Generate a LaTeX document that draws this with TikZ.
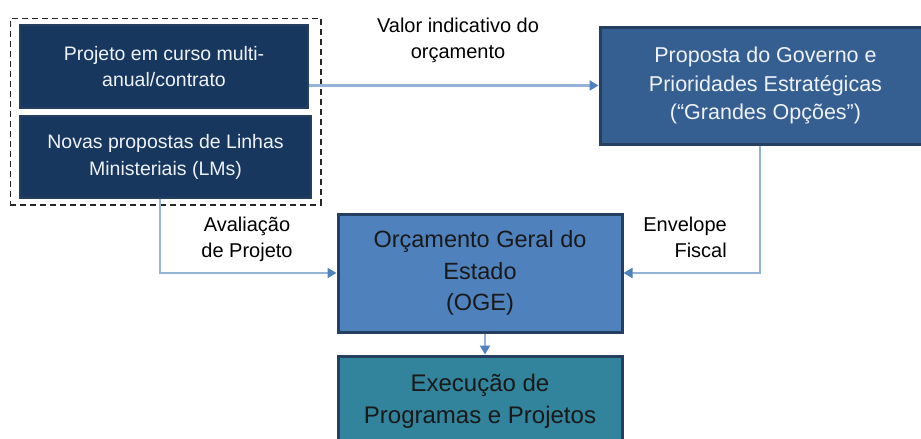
\documentclass[tikz,border=0pt]{standalone}
\usepackage{fontspec}
\setmainfont{Liberation Sans}
\usetikzlibrary{arrows.meta,fit}
\definecolor{navy}{HTML}{17375E}
\definecolor{propfill}{HTML}{365F91}
\definecolor{ogefill}{HTML}{4F81BD}
\definecolor{execfill}{HTML}{31849B}
\definecolor{boxedge}{HTML}{243F60}
\definecolor{linecol}{HTML}{95B3D7}
\definecolor{tipcol}{HTML}{4F81BD}
\definecolor{lighttext}{HTML}{EEF2F8}
\tikzset{
  basebox/.style={draw=boxedge, line width=3pt, inner sep=0pt, align=center},
  darkbox/.style={basebox, fill=navy, text=lighttext, line width=1.5pt,
    font=\fontsize{19.5}{26.5}\selectfont},
  propbox/.style={basebox, fill=propfill, text=lighttext,
    font=\fontsize{21.5}{28.5}\selectfont},
  ogebox/.style={basebox, fill=ogefill, text=black!90,
    font=\fontsize{23.5}{31.5}\selectfont},
  execbox/.style={basebox, fill=execfill, text=black!90,
    font=\fontsize{24}{32}\selectfont},
  lbl/.style={align=center, inner sep=0pt, font=\fontsize{20}{26}\selectfont},
  conn/.style={draw=linecol, line width=2.2pt,
    -{Triangle[color=tipcol, length=9pt, width=10pt]}},
}
\begin{document}
\begin{tikzpicture}[x=1pt,y=-1pt]
\useasboundingbox (0,0) rectangle (921,439);
\clip (0,0) rectangle (921,439);
\node[darkbox, minimum width=288pt, minimum height=83pt] (b1) at (164,66.5)
  {Projeto em curso multi-\\anual/contrato};
\node[darkbox, minimum width=291pt, minimum height=82pt] (b2) at (165.5,157)
  {Novas propostas de Linhas\\Ministeriais (LMs)};
\node[draw=black!85, line width=1.5pt, dash pattern=on 6pt off 4pt,
  fit=(b1)(b2), inner xsep=9pt, inner ysep=6pt] (grp) {};
\node[propbox, minimum width=331pt, minimum height=117pt] (prop) at (765.5,85.5)
  {Proposta do Governo e\\Prioridades Estratégicas\\(“Grandes Opções”)};
\node[ogebox, minimum width=284pt, minimum height=118pt] (oge) at (480,273)
  {Orçamento Geral do\\Estado\\(OGE)};
\node[execbox, minimum width=284pt, minimum height=90pt] (exec) at (480,401)
  {Execução de\\Programas e Projetos};
\node[lbl] (l1) at (458,40) {Valor indicativo do\\orçamento};
\node[lbl, align=right, anchor=east] (l2) at (727,237) {Envelope\\Fiscal};
\node[lbl] (l3) at (247,239) {Avaliação\\de Projeto};
\draw[conn] (b1.east |- prop.west) -- (prop.west);
\draw[conn] ([xshift=-5.5pt]prop.south) |- (oge.east);
\draw[conn] ([xshift=-5.5pt]b2.south) |- (oge.west);
\draw[conn] ([xshift=5pt]oge.south) -- ([xshift=5pt]exec.north);
\end{tikzpicture}
\end{document}
